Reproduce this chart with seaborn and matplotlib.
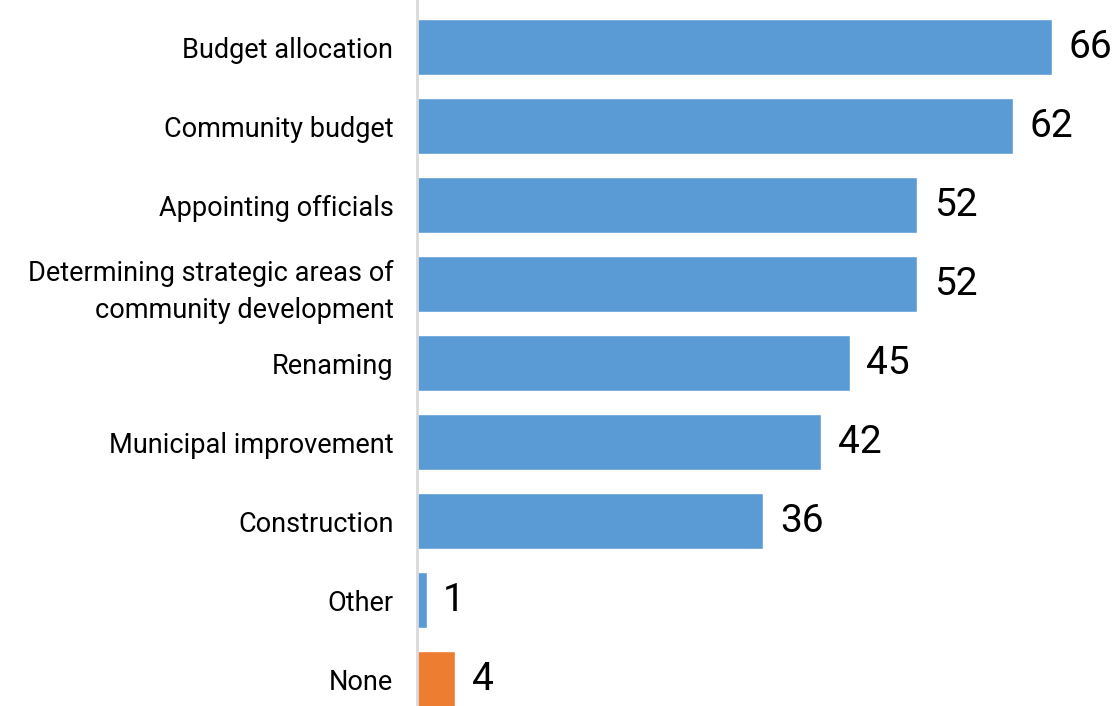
import pandas as pd
import matplotlib
matplotlib.use('Agg')
import matplotlib.pyplot as plt
import seaborn as sns

categories = ['Budget allocation', 'Community budget', 'Appointing officials',
              'Determining strategic areas of\ncommunity development', 'Renaming',
              'Municipal improvement', 'Construction', 'Other', 'None']
values = [66, 62, 52, 52, 45, 42, 36, 1, 4]
groups = ['main'] * 8 + ['none']

df = pd.DataFrame({'category': categories, 'value': values, 'group': groups})

sns.set_style('white')
plt.rcParams['font.family'] = ['Roboto', 'DejaVu Sans']

fig = plt.figure(figsize=(11.19, 7.06), dpi=100)
ax = fig.add_axes([417 / 1119, 0, 1 - 417 / 1119, 1])

sns.barplot(data=df, y='category', x='value', hue='group',
            palette={'main': '#5B9BD5', 'none': '#ED7D31'}, saturation=1,
            width=0.71, dodge=False, legend=False, ax=ax, orient='h')

for c in ax.containers:
    ax.bar_label(c, padding=12, fontsize=28, color='black')

ax.set_xlim(0, 73)
ax.set_ylim(8.34, -0.595)
ax.set_xlabel('')
ax.set_ylabel('')
ax.set_xticks([])
ax.tick_params(axis='y', length=0, pad=17, labelsize=19.5, labelcolor='black')
for s in ['top', 'right', 'bottom']:
    ax.spines[s].set_visible(False)
ax.spines['left'].set_color('#D9D9D9')
ax.spines['left'].set_linewidth(2)
for t in ax.get_yticklabels():
    t.set_multialignment('right')
    t.set_linespacing(1.45)

fig.savefig('out.png', dpi=100)
